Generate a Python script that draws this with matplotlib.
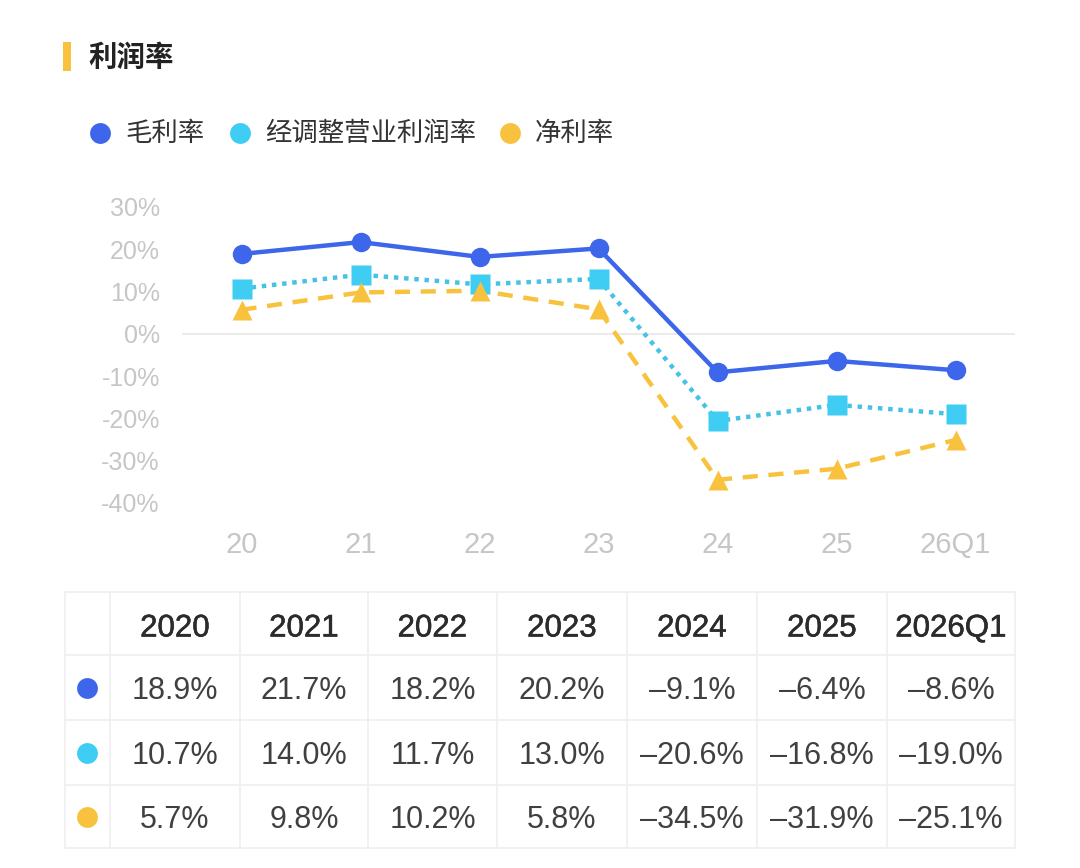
import numpy as np
import matplotlib
matplotlib.use("Agg")
import matplotlib.pyplot as plt
import matplotlib.patheffects as pe

plt.rcParams['font.family'] = ['Liberation Sans', 'Noto Sans CJK SC', 'DejaVu Sans']

# data
title = '利润率'
series_names = ['毛利率', '经调整营业利润率', '净利率']
x_labels = ['20', '21', '22', '23', '24', '25', '26Q1']
years = ['2020', '2021', '2022', '2023', '2024', '2025', '2026Q1']
gross = [18.9, 21.7, 18.2, 20.2, -9.1, -6.4, -8.6]
adj_op = [10.7, 14.0, 11.7, 13.0, -20.6, -16.8, -19.0]
net = [5.7, 9.8, 10.2, 5.8, -34.5, -31.9, -25.1]
y_ticks = [30, 20, 10, 0, -10, -20, -30, -40]

colors = ['#3d66ea', '#3fcdf3', '#f8c23e']
line_colors = ['#3d66ea', '#45c2e6', '#f8c23e']
styles = ['-', (0, (1, 1.3)), (0, (3.4, 2.4))]
markers = ['o', 's', '^']
all_series = [gross, adj_op, net]

fig = plt.figure(figsize=(10.8, 8.68), dpi=100)
W, H = 1080, 868

# overlay axes in pixel coords for title, legend and table
ov = fig.add_axes([0, 0, 1, 1])
ov.set_xlim(0, W)
ov.set_ylim(H, 0)
ov.axis('off')

# title
ov.add_patch(plt.Rectangle((63, 42), 8, 29, color='#f8c23e', lw=0))
ov.text(88, 58, title, fontsize=20.5, fontweight='bold', color='#222222', va='center')

# legend
leg_x = [100, 240, 510]
for i, name in enumerate(series_names):
    ov.plot(leg_x[i], 133, 'o', ms=15, color=colors[i], mec='none')
    ov.text(leg_x[i] + 25, 134, name, fontsize=19, color='#333333', va='center')

# line chart
ax = fig.add_axes([182 / W, 1 - 503 / H, (1015 - 182) / W, 296 / H])
xs = np.arange(len(x_labels))
for vals, c, lc, ls, mk in zip(all_series, colors, line_colors, styles, markers):
    ms = 14 if mk != '^' else 15
    ax.plot(xs, vals, linestyle=ls, color=lc, lw=3.2, zorder=3,
            dash_capstyle='butt')
    ax.plot(xs, vals, linestyle='none', color=c, marker=mk, ms=ms,
            mec='none', clip_on=False, zorder=4)
ax.axhline(0, color='#e8e8e8', lw=1.2, zorder=1)
ax.set_xlim(-0.5, len(x_labels) - 0.5)
ax.set_ylim(-40, 30)
ax.set_yticks(y_ticks)
ax.set_yticklabels([f'{t}%' for t in y_ticks])
ax.set_xticks(xs)
ax.set_xticklabels(x_labels)
ax.tick_params(length=0, labelcolor='#c6c6c6')
ax.tick_params(axis='y', pad=16, labelsize=18)
ax.tick_params(axis='x', pad=20, labelsize=21)
for s in ax.spines.values():
    s.set_visible(False)
ax.patch.set_alpha(0)

# table
col_edges = [65, 110, 240, 368, 497, 627, 757, 887, 1015]
row_edges = [592, 655, 720, 785, 848]
line_c = '#efefef'
for xe in col_edges:
    ov.plot([xe, xe], [row_edges[0], row_edges[-1]], color=line_c, lw=1.2)
for ye in row_edges:
    ov.plot([col_edges[0], col_edges[-1]], [ye, ye], color=line_c, lw=1.2)

for j, yr in enumerate(years):
    cx = (col_edges[j + 1] + col_edges[j + 2]) / 2
    ov.text(cx, (row_edges[0] + row_edges[1]) / 2 + 5, yr, fontsize=22.5,
            color='#2b2b2b', ha='center', va='center',
            path_effects=[pe.withStroke(linewidth=0.4, foreground='#2b2b2b')])

for i, vals in enumerate(all_series):
    cy = (row_edges[i + 1] + row_edges[i + 2]) / 2
    ov.plot(87, cy, 'o', ms=15, color=colors[i], mec='none')
    for j, v in enumerate(vals):
        cx = (col_edges[j + 1] + col_edges[j + 2]) / 2
        txt = f'{v:.1f}%'.replace('-', '\u2013')
        ov.text(cx, cy + 3.5, txt, fontsize=22, color='#404040', ha='center', va='center')

fig.savefig('out.png', dpi=100, facecolor='white')
